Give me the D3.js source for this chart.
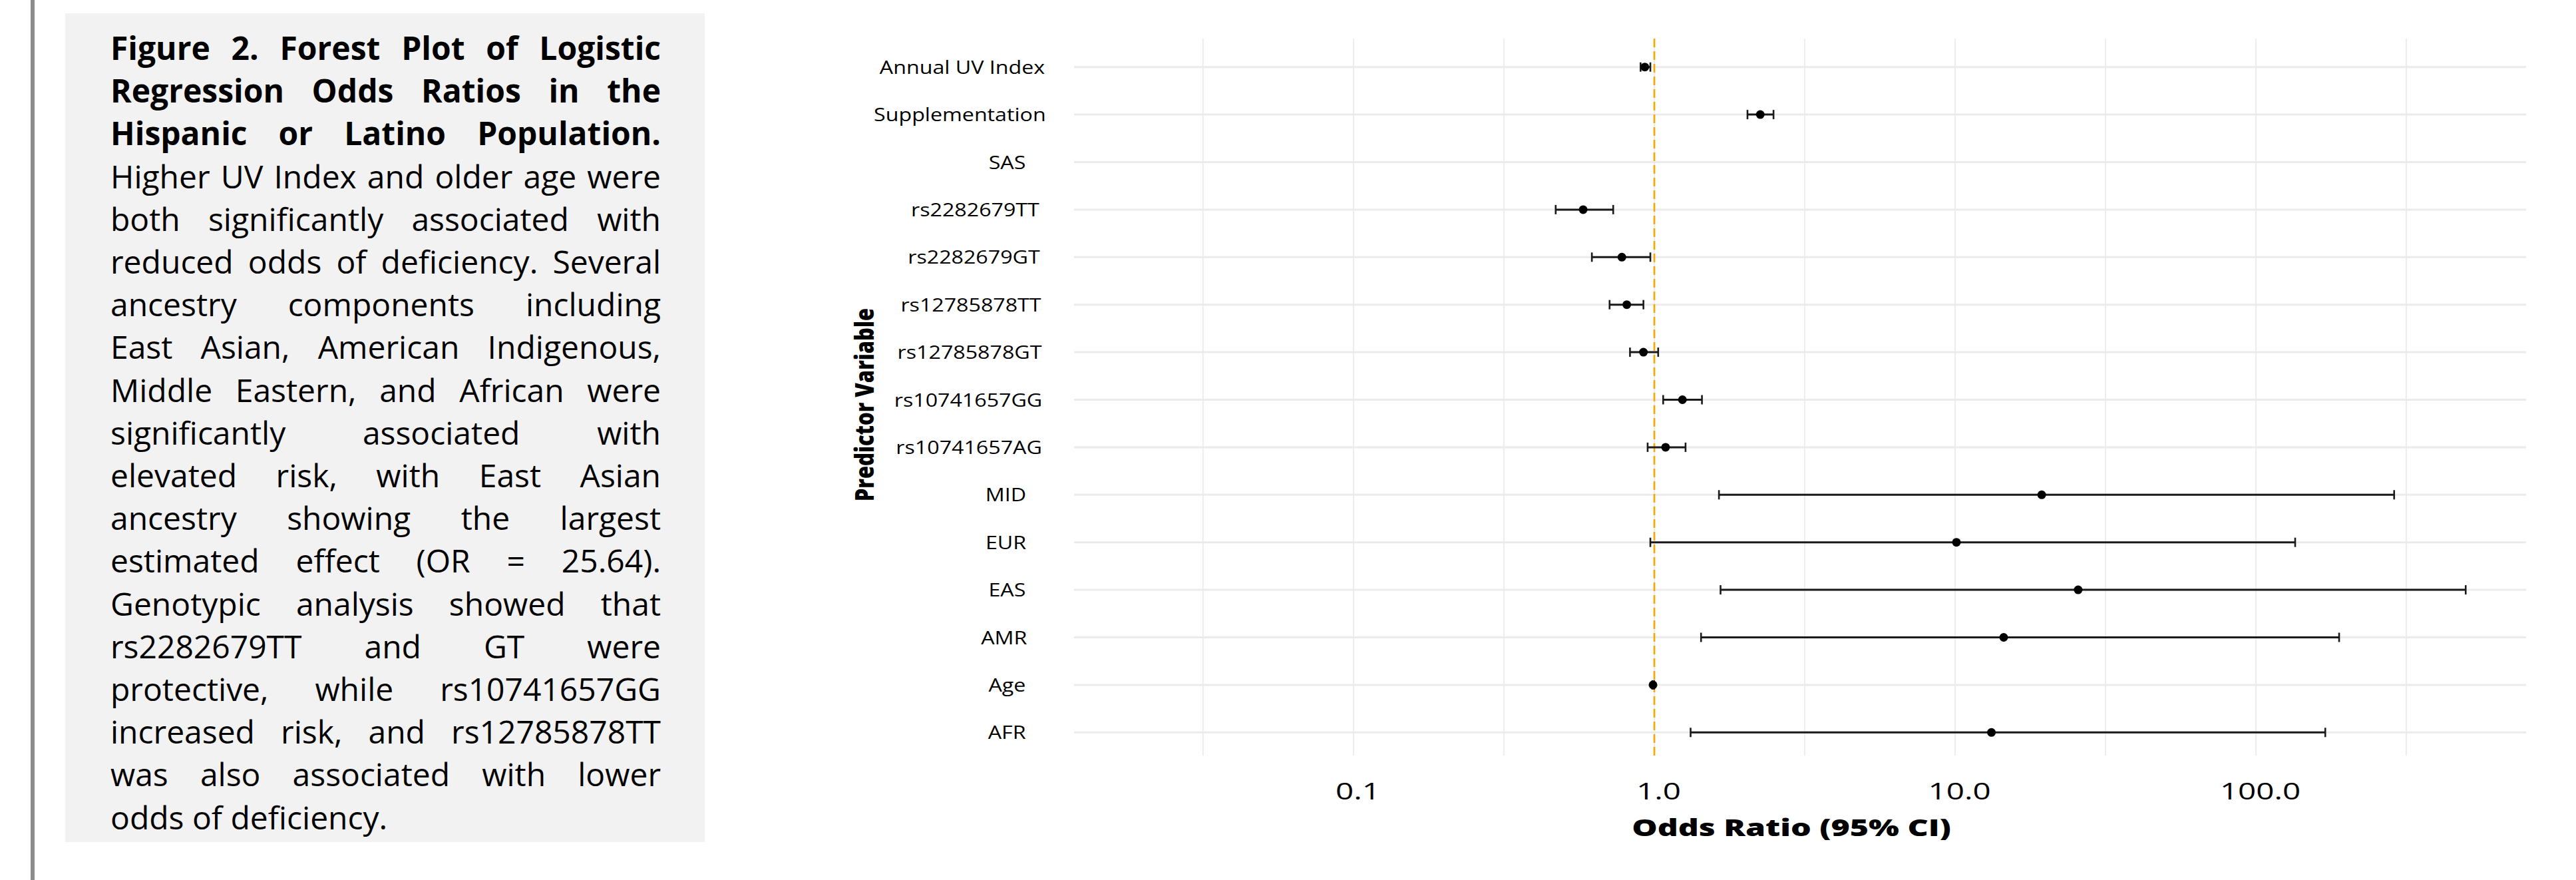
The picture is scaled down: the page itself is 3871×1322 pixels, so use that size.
<!DOCTYPE html>
<html>
<head>
<meta charset="utf-8">
<script src="https://cdn.jsdelivr.net/npm/d3@7"></script>
<style>
    body { margin: 0; background: #fff; }
    svg { display: block; }
</style>
</head>
<body>
<svg id="svg_forestPlot" width="3871" height="1322"></svg>
<script>
// Forest plot of logistic regression odds ratios (Hispanic or Latino population)

const predictors = ['Annual UV Index', 'Supplementation', 'SAS', 'rs2282679TT', 'rs2282679GT',
    'rs12785878TT', 'rs12785878GT', 'rs10741657GG', 'rs10741657AG',
    'MID', 'EUR', 'EAS', 'AMR', 'Age', 'AFR'];
const oddsRatio = [0.93, 2.25, null, 0.58, 0.78, 0.81, 0.92, 1.24, 1.09, 19.4, 10.1, 25.64, 14.5, 0.99, 13.2];
const ciLower   = [0.90, 2.04, null, 0.47, 0.62, 0.71, 0.83, 1.07, 0.95, 1.64, 0.97, 1.66, 1.43, 0.985, 1.32];
const ciUpper   = [0.97, 2.49, null, 0.73, 0.97, 0.92, 1.03, 1.44, 1.27, 288, 135, 498, 189, 0.998, 170];

const majorTicks = [0.1, 1, 10, 100];
const tickLabels = ['0.1', '1.0', '10.0', '100.0'];
const minorTicks = [0.0316, 0.316, 3.16, 31.6, 316];

const captionBold = ['Figure 2. Forest Plot of Logistic', 'Regression Odds Ratios in the', 'Hispanic or Latino Population.'];
const captionLines = [
    'Higher UV Index and older age were',
    'both significantly associated with',
    'reduced odds of deficiency. Several',
    'ancestry components including',
    'East Asian, American Indigenous,',
    'Middle Eastern, and African were',
    'significantly associated with',
    'elevated risk, with East Asian',
    'ancestry showing the largest',
    'estimated effect (OR = 25.64).',
    'Genotypic analysis showed that',
    'rs2282679TT and GT were',
    'protective, while rs10741657GG',
    'increased risk, and rs12785878TT',
    'was also associated with lower',
    'odds of deficiency.'
];

class ForestPlot {

    constructor() {
        this.svg = d3.select('#svg_forestPlot');
        this.data = predictors.map((p, i) => ({ name: p, or: oddsRatio[i], lo: ciLower[i], hi: ciUpper[i] }));

        // panel box (ggplot minimal, no axis lines)
        this.left = 1614;
        this.right = 3796;
        this.top = 58;
        this.bottom = 1135;

        this.xScale = d3.scaleLog()
            .domain([Math.pow(10, -1.929), Math.pow(10, 2.898)])
            .range([this.left, this.right]);

        this.yScale = d3.scalePoint()
            .domain(predictors)
            .range([100.7, 1100.3]);
    }

    draw() {
        this.drawCaption();
        this.drawGrid();
        this.drawBars();
        this.drawAxes();
    }

    drawCaption() {
        let svg = this.svg;
        svg.append('rect').attr('x', 46).attr('y', 0).attr('width', 6).attr('height', 1322).attr('fill', '#8c8c8c');
        svg.append('rect').attr('x', 98).attr('y', 20).attr('width', 961).attr('height', 1245).attr('fill', '#f2f2f2');

        let x0 = 166, x1 = 993;
        let all = captionBold.map(t => ({ t, bold: true })).concat(captionLines.map(t => ({ t, bold: false })));
        let g = svg.append('g')
            .style('font-family', '"Open Sans", sans-serif')
            .style('font-size', '48px')
            .attr('fill', '#000');

        all.forEach((d, i) => {
            let txt = g.append('text')
                .attr('x', x0)
                .attr('y', 90 + i * 64.2)
                .style('font-weight', d.bold ? 700 : 400)
                .text(d.t);
            // justify all but the last line
            if (i < all.length - 1) {
                let w = txt.node().getComputedTextLength();
                let spaces = d.t.split(' ').length - 1;
                if (spaces > 0) txt.attr('word-spacing', (x1 - x0 - w) / spaces);
            }
        });
    }

    drawGrid() {
        let g = this.svg.append('g');
        g.selectAll('.vgrid')
            .data(majorTicks.concat(minorTicks))
            .join('line')
            .attr('x1', d => this.xScale(d)).attr('x2', d => this.xScale(d))
            .attr('y1', this.top).attr('y2', this.bottom)
            .attr('stroke', '#ebebeb').attr('stroke-width', 1.8);

        g.selectAll('.hgrid')
            .data(predictors)
            .join('line')
            .attr('x1', this.left).attr('x2', this.right)
            .attr('y1', d => this.yScale(d)).attr('y2', d => this.yScale(d))
            .attr('stroke', '#ebebeb').attr('stroke-width', 3);

        // reference line at OR = 1
        g.append('line')
            .attr('x1', this.xScale(1)).attr('x2', this.xScale(1))
            .attr('y1', this.top).attr('y2', this.bottom)
            .attr('stroke', '#FFA500').attr('stroke-width', 2.6)
            .attr('stroke-dasharray', '13,6');
    }

    drawBars() {
        let rows = this.data.filter(d => d.or != null);
        let g = this.svg.append('g');
        let cap = 7;

        g.selectAll('.ci')
            .data(rows).join('line')
            .attr('x1', d => this.xScale(d.lo)).attr('x2', d => this.xScale(d.hi))
            .attr('y1', d => this.yScale(d.name)).attr('y2', d => this.yScale(d.name))
            .attr('stroke', '#1a1a1a').attr('stroke-width', 3);

        ['lo', 'hi'].forEach(k => {
            g.selectAll('.cap' + k)
                .data(rows).join('line')
                .attr('x1', d => this.xScale(d[k])).attr('x2', d => this.xScale(d[k]))
                .attr('y1', d => this.yScale(d.name) - cap).attr('y2', d => this.yScale(d.name) + cap)
                .attr('stroke', '#1a1a1a').attr('stroke-width', 2.6);
        });

        g.selectAll('circle')
            .data(rows).join('circle')
            .attr('cx', d => this.xScale(d.or))
            .attr('cy', d => this.yScale(d.name))
            .attr('r', 6.5)
            .attr('fill', '#000');
    }

    drawAxes() {
        let svg = this.svg;
        let font = '"Open Sans", sans-serif';

        // x tick labels (stretched like the source image)
        let xAxis = d3.axisBottom(this.xScale)
            .tickValues(majorTicks)
            .tickFormat((d, i) => tickLabels[i])
            .tickSize(0)
            .tickPadding(0);

        let gx = svg.append('g')
            .attr('transform', `translate(6, ${1201})`)
            .call(xAxis);
        gx.select('.domain').remove();
        gx.selectAll('text')
            .attr('dy', 0)
            .attr('y', 0)
            .style('font-family', font)
            .style('font-size', '34px')
            .attr('fill', '#000')
            .attr('transform', 'scale(1.4, 1)');

        // y labels
        let sx = 1.15;
        let gy = svg.append('g')
            .style('font-family', font)
            .style('font-size', '28px');
        predictors.forEach(p => {
            let t = gy.append('text').attr('fill', '#000').text(p);
            let w = t.node().getComputedTextLength() * sx;
            t.attr('transform', `translate(${1533 - 0.85 * w}, ${this.yScale(p) + 10}) scale(${sx}, 1)`);
        });

        // x title
        svg.append('text')
            .attr('transform', `translate(2692, 1256) scale(1.38, 1)`)
            .attr('text-anchor', 'middle')
            .style('font-family', font)
            .style('font-size', '35px')
            .style('font-weight', 800)
            .text('Odds Ratio (95% CI)');

        // y title
        svg.append('text')
            .attr('transform', `translate(1313, 608) rotate(-90) scale(1, 1.25)`)
            .attr('text-anchor', 'middle')
            .style('font-family', font)
            .style('font-size', '31px')
            .style('font-weight', 800)
            .text('Predictor Variable');
    }
}

let plot = new ForestPlot();
plot.draw();
</script>
</body>
</html>
